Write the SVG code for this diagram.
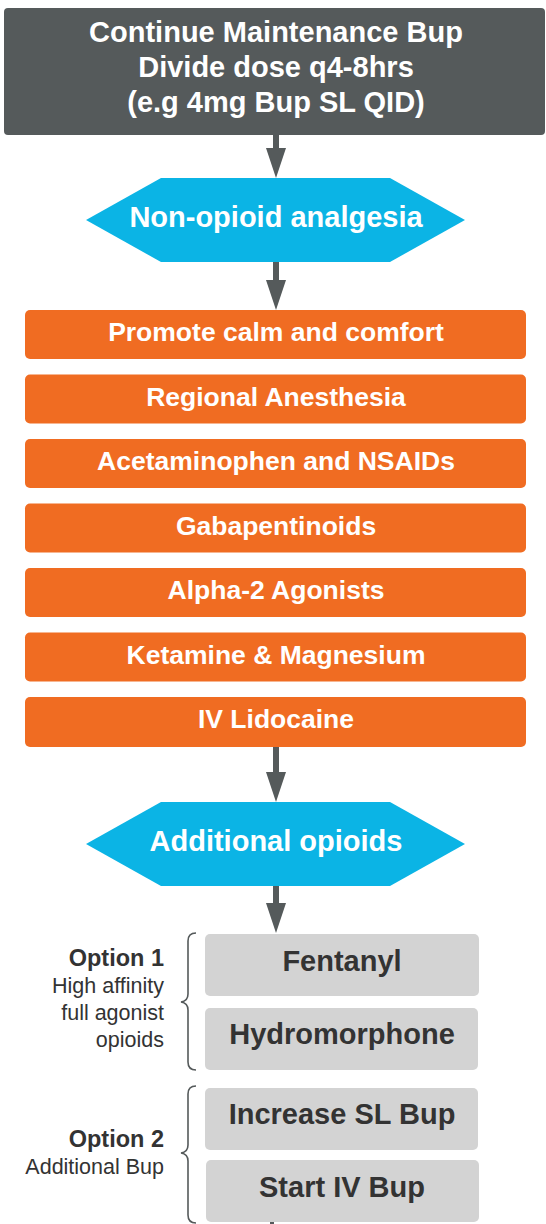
<svg xmlns="http://www.w3.org/2000/svg" width="546" height="1224" viewBox="0 0 546 1224">
  <defs>
    <style>
      .title { fill: #555a5b; }
      .hex { fill: #0bb4e5; }
      .step { fill: #f06c22; }
      .opt { fill: #d3d3d3; }
      .head { fill: #555a5b; }
      .wt { font-family: "Liberation Sans", Arial, sans-serif; font-weight: bold; fill: #ffffff; text-anchor: middle; }
      .big { font-size: 29px; }
      .mid { font-size: 26.5px; }
      .dk { font-family: "Liberation Sans", Arial, sans-serif; font-weight: bold; fill: #333333; text-anchor: middle; font-size: 29px; }
      .lbl { font-family: "Liberation Sans", Arial, sans-serif; fill: #333333; text-anchor: end; font-size: 21.5px; }
      .lblb { font-weight: bold; font-size: 23.5px; }
      .conn { stroke: #555a5b; stroke-width: 6; fill: none; }
      .brace { stroke: #555a5b; stroke-width: 1.6; fill: none; }
    </style>
  </defs>

  <!-- connectors: shaft plus triangular head -->
  <g id="connectors">
    <line class="conn" x1="276" y1="135" x2="276" y2="148"/>
    <path class="head" d="M266,148 L286,148 L276,178 Z"/>
    <line class="conn" x1="276" y1="262" x2="276" y2="280"/>
    <path class="head" d="M266,280 L286,280 L276,310 Z"/>
    <line class="conn" x1="276" y1="747" x2="276" y2="772"/>
    <path class="head" d="M266,772 L286,772 L276,802 Z"/>
    <line class="conn" x1="276" y1="886" x2="276" y2="903"/>
    <path class="head" d="M266,903 L286,903 L276,933 Z"/>
    <line x1="272" y1="1221" x2="272" y2="1224" stroke="#555a5b" stroke-width="4"/>
  </g>

  <!-- start node -->
  <g id="start">
    <rect class="title" x="4" y="8" width="541" height="127" rx="4"/>
    <text class="wt big" x="276" y="42">Continue Maintenance Bup</text>
    <text class="wt big" x="276" y="77">Divide dose q4-8hrs</text>
    <text class="wt big" x="276" y="112">(e.g 4mg Bup SL QID)</text>
  </g>

  <!-- decision: non-opioid -->
  <g id="non-opioid">
    <polygon class="hex" points="86,220 161,178 390,178 465,220 390,262 161,262"/>
    <text class="wt big" x="276" y="227">Non-opioid analgesia</text>
  </g>

  <!-- non-opioid steps -->
  <g id="calm">
    <rect class="step" x="25" y="310" width="501" height="49" rx="5"/>
    <text class="wt mid" x="276" y="341">Promote calm and comfort</text>
  </g>
  <g id="regional">
    <rect class="step" x="25" y="374.5" width="501" height="49" rx="5"/>
    <text class="wt mid" x="276" y="405.5">Regional Anesthesia</text>
  </g>
  <g id="acetaminophen">
    <rect class="step" x="25" y="439" width="501" height="49" rx="5"/>
    <text class="wt mid" x="276" y="470">Acetaminophen and NSAIDs</text>
  </g>
  <g id="gabapentinoids">
    <rect class="step" x="25" y="503.5" width="501" height="49" rx="5"/>
    <text class="wt mid" x="276" y="534.5">Gabapentinoids</text>
  </g>
  <g id="alpha2">
    <rect class="step" x="25" y="568" width="501" height="49" rx="5"/>
    <text class="wt mid" x="276" y="599">Alpha-2 Agonists</text>
  </g>
  <g id="ketamine">
    <rect class="step" x="25" y="632.5" width="501" height="49" rx="5"/>
    <text class="wt mid" x="276" y="663.5">Ketamine &amp; Magnesium</text>
  </g>
  <g id="lidocaine">
    <rect class="step" x="25" y="697" width="501" height="50" rx="5"/>
    <text class="wt mid" x="276" y="728">IV Lidocaine</text>
  </g>

  <!-- decision: additional opioids -->
  <g id="additional">
    <polygon class="hex" points="86,844 161,802 390,802 465,844 390,886 161,886"/>
    <text class="wt big" x="276" y="851">Additional opioids</text>
  </g>

  <!-- option 1 -->
  <g id="option1">
    <path class="brace" d="M196,933 Q188,933 188,941 L188,994 Q188,1001 181,1002 Q188,1003 188,1010 L188,1062 Q188,1070 196,1070"/>
    <text class="lbl lblb" x="164" y="966">Option 1</text>
    <text class="lbl" x="164" y="993">High affinity</text>
    <text class="lbl" x="164" y="1020">full agonist</text>
    <text class="lbl" x="164" y="1047">opioids</text>
  </g>
  <g id="fentanyl">
    <rect class="opt" x="205" y="934" width="274" height="62" rx="5"/>
    <text class="dk" x="342" y="971">Fentanyl</text>
  </g>
  <g id="hydromorphone">
    <rect class="opt" x="205" y="1008" width="273" height="62" rx="5"/>
    <text class="dk" x="342" y="1044">Hydromorphone</text>
  </g>

  <!-- option 2 -->
  <g id="option2">
    <path class="brace" d="M196,1086 Q188,1086 188,1094 L188,1145 Q188,1152 181,1153 Q188,1154 188,1161 L188,1215 Q188,1223 196,1223"/>
    <text class="lbl lblb" x="164" y="1147">Option 2</text>
    <text class="lbl" x="164" y="1174">Additional Bup</text>
  </g>
  <g id="increase-sl">
    <rect class="opt" x="205" y="1088" width="273" height="62" rx="5"/>
    <text class="dk" x="342" y="1124">Increase SL Bup</text>
  </g>
  <g id="start-iv">
    <rect class="opt" x="206" y="1160" width="273" height="62" rx="5"/>
    <text class="dk" x="342" y="1197">Start IV Bup</text>
  </g>
</svg>
